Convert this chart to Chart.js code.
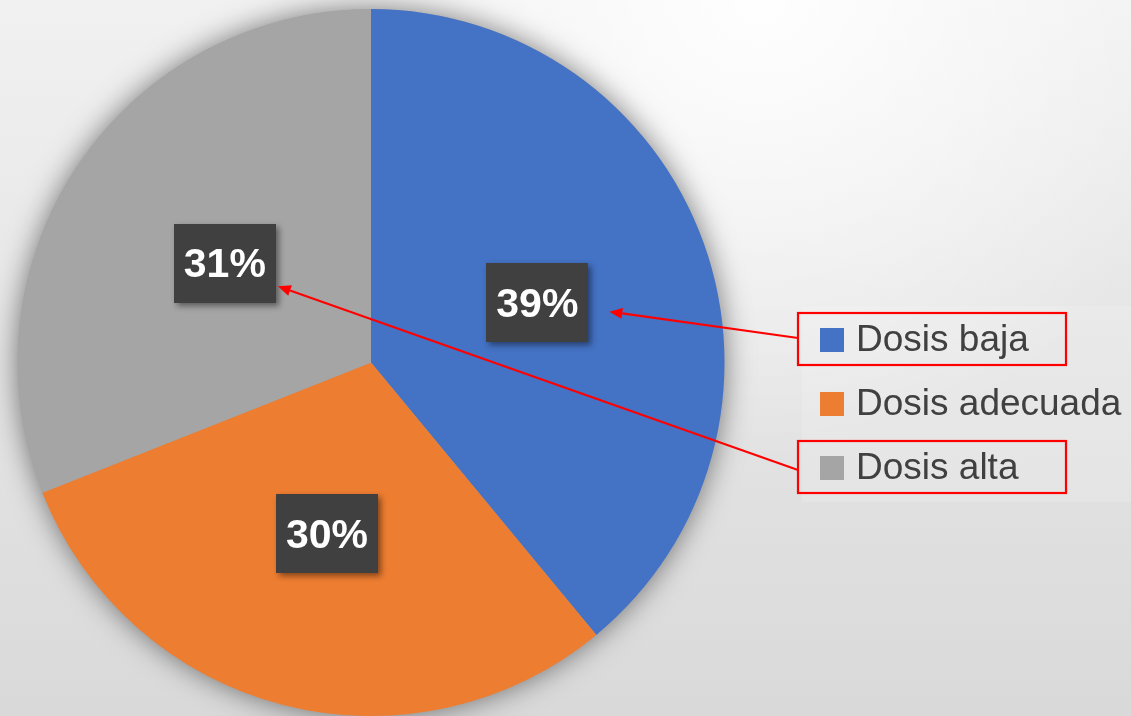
<!DOCTYPE html>
<html>
<head>
<meta charset="utf-8">
<script src="https://cdn.jsdelivr.net/npm/chart.js@4/dist/chart.umd.min.js"></script>
<style>
  html, body { margin: 0; padding: 0; width: 1131px; height: 716px; overflow: hidden; }
  body {
    background:
      radial-gradient(circle 460px at 760px 0px, rgba(255,255,255,0.95), rgba(255,255,255,0)),
      linear-gradient(#f1f1f1, #d9d9d9);
  }
  #wrap { position: absolute; left: 0; top: 0; width: 1131px; height: 716px; }
</style>
</head>
<body>
<div id="wrap"><canvas id="c" width="1131" height="716"></canvas></div>
<script>
// Dosage categories and their share of the total (%)
const categories = ['Dosis baja', 'Dosis adecuada', 'Dosis alta'];
const shares = [39, 30, 31];
const sliceColors = ['#4472C4', '#ED7D31', '#A5A5A5'];
// Legend entries that are boxed in red and pointed to their slice label
const highlighted = [0, 2];

// Soft shadow under the whole pie
const pieShadow = {
  id: 'pieShadow',
  beforeDatasetsDraw(chart) {
    const arc = chart.getDatasetMeta(0).data[0];
    if (!arc) return;
    const ctx = chart.ctx;
    ctx.save();
    ctx.shadowColor = 'rgba(0,0,0,0.5)';
    ctx.shadowBlur = 28;
    ctx.shadowOffsetX = 0;
    ctx.shadowOffsetY = 0;
    ctx.beginPath();
    ctx.arc(arc.x, arc.y, arc.outerRadius, 0, Math.PI * 2);
    ctx.fillStyle = '#a5a5a5';
    ctx.fill();
    ctx.restore();
  }
};

// Percentage labels in dark boxes, legend, and red call-out arrows
const annotations = {
  id: 'annotations',
  afterDatasetsDraw(chart) {
    const ctx = chart.ctx;
    const meta = chart.getDatasetMeta(0);
    const labelPos = [];

    // value labels
    meta.data.forEach((arc, i) => {
      const p = arc.tooltipPosition();
      labelPos.push(p);
      const w = 102, h = 79;
      ctx.save();
      ctx.shadowColor = 'rgba(0,0,0,0.45)';
      ctx.shadowBlur = 6;
      ctx.shadowOffsetX = 3;
      ctx.shadowOffsetY = 3;
      ctx.fillStyle = '#404040';
      ctx.fillRect(Math.round(p.x - w / 2), Math.round(p.y - h / 2), w, h);
      ctx.restore();
      ctx.save();
      ctx.fillStyle = '#ffffff';
      ctx.font = 'bold 41px "Liberation Sans", Arial, sans-serif';
      ctx.textAlign = 'center';
      ctx.textBaseline = 'middle';
      ctx.fillText(shares[i] + '%', p.x, p.y + 3);
      ctx.restore();
    });

    // legend
    const lx = 820, ly0 = 340, step = 64, sq = 24;
    ctx.save();
    ctx.fillStyle = 'rgba(255,255,255,0.14)';
    ctx.fillRect(802, 306, 329, 196);
    ctx.font = '37px "Liberation Sans", Arial, sans-serif';
    ctx.textBaseline = 'middle';
    ctx.textAlign = 'left';
    categories.forEach((name, i) => {
      const cy = ly0 + i * step;
      ctx.fillStyle = sliceColors[i];
      ctx.fillRect(lx, cy - sq / 2, sq, sq);
      ctx.fillStyle = '#404040';
      ctx.fillText(name, lx + 36, cy + 1);
    });
    ctx.restore();

    // red boxes and arrows
    const tipOffsets = { 0: [72, 9], 2: [53, 23] };
    ctx.save();
    ctx.strokeStyle = '#FF0000';
    ctx.fillStyle = '#FF0000';
    ctx.lineWidth = 2.2;
    highlighted.forEach(i => {
      const cy = ly0 + i * step;
      const bx = 798, by = cy - 27, bw = 268, bh = 52;
      ctx.strokeRect(bx, by, bw, bh);
      const sx = bx, sy = cy - 2 + (i === 2 ? 4 : 0);
      const p = labelPos[i];
      const tx = p.x + tipOffsets[i][0], ty = p.y + tipOffsets[i][1];
      const ang = Math.atan2(ty - sy, tx - sx);
      const hl = 13, hw = 5.5;
      const baseX = tx - hl * Math.cos(ang), baseY = ty - hl * Math.sin(ang);
      ctx.beginPath();
      ctx.moveTo(sx, sy);
      ctx.lineTo(baseX, baseY);
      ctx.stroke();
      ctx.beginPath();
      ctx.moveTo(tx, ty);
      ctx.lineTo(baseX + hw * Math.sin(ang), baseY - hw * Math.cos(ang));
      ctx.lineTo(baseX - hw * Math.sin(ang), baseY + hw * Math.cos(ang));
      ctx.closePath();
      ctx.fill();
    });
    ctx.restore();
  }
};

new Chart(document.getElementById('c'), {
  type: 'pie',
  data: {
    labels: categories,
    datasets: [{
      data: shares,
      backgroundColor: sliceColors,
      borderWidth: 0
    }]
  },
  options: {
    responsive: false,
    animation: false,
    layout: { padding: { left: 17, right: 406, top: 9, bottom: 0 } },
    plugins: {
      legend: { display: false },
      tooltip: { enabled: false }
    }
  },
  plugins: [pieShadow, annotations]
});
</script>
</body>
</html>
